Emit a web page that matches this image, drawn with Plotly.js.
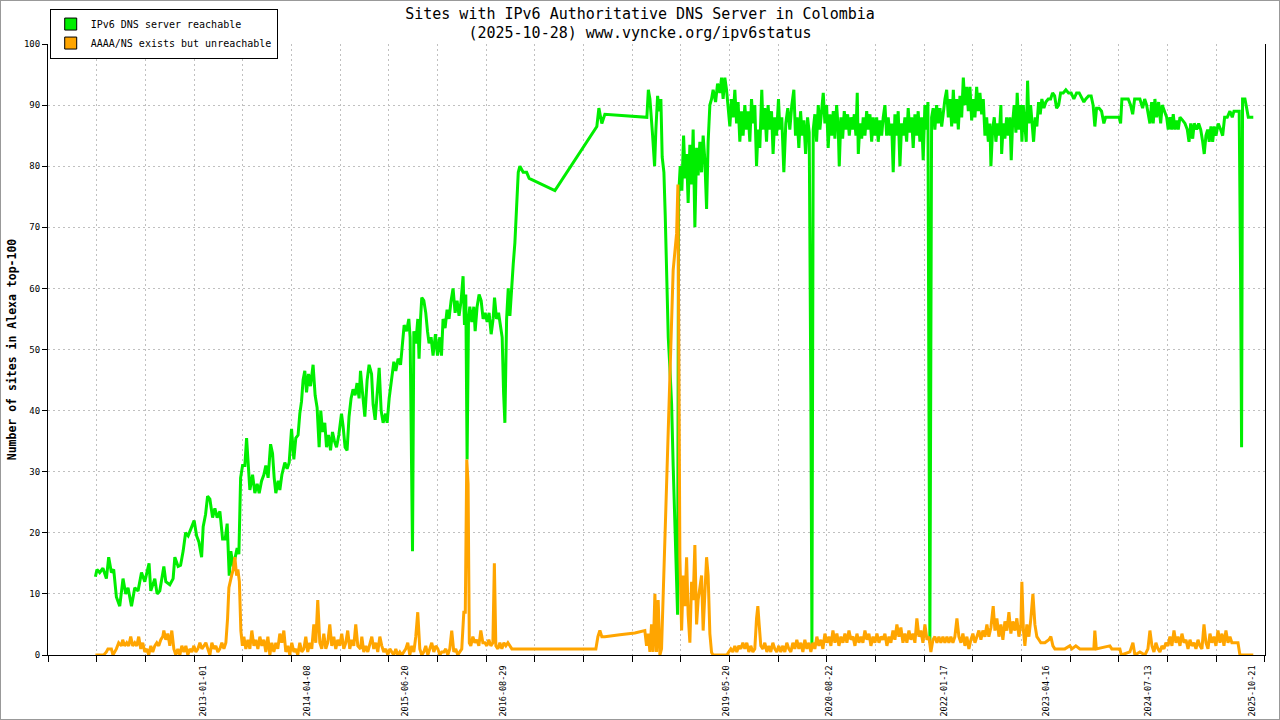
<!DOCTYPE html>
<html><head><meta charset="utf-8">
<script src="https://cdn.plot.ly/plotly-3.0.1.min.js"></script>
<style>
html,body{margin:0;padding:0;background:#fff}
#wrap{position:relative;width:1280px;height:720px}
#chart{width:1280px;height:720px}
#frame{position:absolute;left:0;top:0;width:1280px;height:720px;box-sizing:border-box;border:1px solid #999;pointer-events:none}
</style>
</head><body><div id="wrap"><div id="chart"></div><div id="frame"></div></div>
<script>
// Time of each sample as decimal year
const greenYears = [
2011.687,2011.706,2011.739,2011.779,2011.821,2011.849,2011.882,2011.910,2011.943,2011.984,
2012.024,2012.057,2012.085,2012.127,2012.167,2012.207,2012.249,2012.289,2012.341,2012.362,
2012.411,2012.439,2012.472,2012.521,2012.545,2012.594,2012.634,2012.655,2012.695,2012.725,
2012.756,2012.786,2012.817,2012.847,2012.890,2012.920,2012.948,2012.981,2013.000,2013.029,
2013.054,2013.082,2013.115,2013.143,2013.171,2013.204,2013.237,2013.269,2013.293,2013.318,
2013.338,2013.367,2013.387,2013.415,2013.436,2013.457,2013.481,2013.509,2013.530,2013.549,
2013.570,2013.603,2013.631,2013.659,2013.684,2013.713,2013.741,2013.765,2013.793,2013.823,
2013.847,2013.867,2013.887,2013.916,2013.936,2013.961,2013.997,2014.025,2014.050,2014.079,
2014.107,2014.131,2014.159,2014.180,2014.201,2014.220,2014.241,2014.262,2014.286,2014.311,
2014.342,2014.367,2014.391,2014.416,2014.436,2014.457,2014.485,2014.506,2014.530,2014.555,
2014.579,2014.603,2014.628,2014.656,2014.689,2014.708,2014.733,2014.757,2014.781,2014.806,
2014.830,2014.855,2014.879,2014.904,2014.921,2014.945,2014.974,2015.002,2015.026,2015.056,
2015.075,2015.100,2015.124,2015.149,2015.173,2015.197,2015.227,2015.246,2015.271,2015.300,
2015.328,2015.352,2015.380,2015.410,2015.434,2015.454,2015.483,2015.511,2015.527,2015.539,
2015.556,2015.572,2015.596,2015.621,2015.636,2015.654,2015.669,2015.694,2015.718,2015.739,
2015.758,2015.783,2015.807,2015.836,2015.861,2015.889,2015.910,2015.929,2015.954,2015.978,
2016.002,2016.027,2016.051,2016.076,2016.100,2016.124,2016.149,2016.173,2016.190,2016.206,
2016.222,2016.239,2016.255,2016.279,2016.304,2016.320,2016.344,2016.368,2016.393,2016.417,
2016.442,2016.466,2016.490,2016.515,2016.539,2016.556,2016.580,2016.605,2016.630,2016.649,
2016.666,2016.682,2016.703,2016.723,2016.743,2016.764,2016.784,2016.804,2016.825,2016.845,
2016.865,2016.905,2016.947,2016.978,2017.292,2017.804,2017.829,2017.865,2017.902,2018.415,
2018.433,2018.452,2018.485,2018.509,2018.525,2018.546,2018.565,2018.586,2018.602,2018.623,
2018.639,2018.656,2018.676,2018.696,2018.717,2018.736,2018.757,2018.778,2018.790,2018.802,
2018.822,2018.842,2018.863,2018.883,2018.900,2018.919,2018.940,2018.961,2018.980,2019.001,
2019.022,2019.041,2019.062,2019.083,2019.102,2019.123,2019.144,2019.163,2019.184,2019.205,
2019.224,2019.254,2019.278,2019.306,2019.327,2019.346,2019.367,2019.388,2019.407,2019.428,
2019.449,2019.468,2019.489,2019.510,2019.529,2019.550,2019.571,2019.590,2019.611,2019.632,
2019.651,2019.672,2019.693,2019.712,2019.733,2019.754,2019.773,2019.794,2019.818,2019.834,
2019.855,2019.876,2019.895,2019.916,2019.937,2019.956,2019.977,2019.998,2020.022,2020.038,
2020.062,2020.087,2020.111,2020.135,2020.160,2020.184,2020.209,2020.229,2020.249,2020.270,
2020.291,2020.310,2020.331,2020.352,2020.376,2020.396,2020.416,2020.429,2020.445,2020.465,
2020.486,2020.506,2020.526,2020.547,2020.567,2020.587,2020.608,2020.627,2020.648,2020.669,
2020.689,2020.709,2020.730,2020.750,2020.762,2020.782,2020.803,2020.823,2020.843,2020.864,
2020.884,2020.904,2020.925,2020.945,2020.965,2020.981,2020.994,2021.014,2021.035,2021.054,
2021.075,2021.096,2021.115,2021.136,2021.157,2021.176,2021.197,2021.218,2021.237,2021.258,
2021.279,2021.298,2021.319,2021.340,2021.359,2021.380,2021.401,2021.420,2021.441,2021.462,
2021.481,2021.502,2021.523,2021.542,2021.563,2021.584,2021.603,2021.624,2021.645,2021.664,
2021.685,2021.706,2021.725,2021.746,2021.767,2021.786,2021.807,2021.828,2021.844,2021.856,
2021.868,2021.889,2021.908,2021.929,2021.950,2021.970,2021.991,2022.012,2022.031,2022.052,
2022.073,2022.093,2022.113,2022.134,2022.154,2022.174,2022.195,2022.215,2022.235,2022.256,
2022.276,2022.296,2022.317,2022.337,2022.357,2022.378,2022.398,2022.418,2022.439,2022.459,
2022.479,2022.500,2022.520,2022.540,2022.561,2022.581,2022.601,2022.613,2022.634,2022.654,
2022.674,2022.695,2022.715,2022.735,2022.744,2022.764,2022.784,2022.805,2022.825,2022.845,
2022.861,2022.878,2022.897,2022.918,2022.934,2022.955,2022.976,2022.992,2023.008,2023.028,
2023.044,2023.061,2023.077,2023.098,2023.117,2023.134,2023.154,2023.174,2023.195,2023.215,
2023.235,2023.260,2023.284,2023.313,2023.342,2023.366,2023.391,2023.415,2023.440,2023.464,
2023.496,2023.528,2023.561,2023.593,2023.626,2023.659,2023.691,2023.723,2023.748,2023.772,
2023.805,2023.837,2023.861,2023.882,2023.903,2023.934,2023.964,2023.992,2024.013,2024.065,
2024.126,2024.179,2024.196,2024.212,2024.248,2024.289,2024.318,2024.343,2024.367,2024.399,
2024.431,2024.464,2024.489,2024.513,2024.538,2024.553,2024.574,2024.593,2024.614,2024.635,
2024.659,2024.684,2024.703,2024.728,2024.757,2024.776,2024.797,2024.818,2024.837,2024.858,
2024.879,2024.898,2024.919,2024.952,2024.980,2025.008,2025.029,2025.050,2025.074,2025.093,
2025.123,2025.147,2025.172,2025.196,2025.215,2025.236,2025.257,2025.276,2025.297,2025.318,
2025.337,2025.358,2025.386,2025.415,2025.440,2025.464,2025.496,2025.529,2025.557,2025.578,
2025.610,2025.642,2025.659,2025.671,2025.683,2025.712,2025.733,2025.753,2025.782,2025.814
];
const greenValues = [
12.8,14,13.5,14.2,12.5,16,13.5,14,9.5,8,
12.5,10,11,8,11,10.5,13.5,12,15,10.5,
12.5,10,10.5,14.5,12,11.5,12.5,16,14.5,14.7,
17,20,19.5,20.5,22,19.5,18.5,16,21,23,
26,25.5,22.5,24,22.5,23.5,19,19,21.5,13,
17,14.5,16,17.5,16.5,29,31,31,35.5,32,
27,29.5,26.5,28,26.5,28.5,29.5,31,29,34.5,
33,29,26.5,28.5,27,29.5,31.5,30.5,31.5,37,
32,35.5,36,39.5,41.5,45,46.5,43,46,44,
47.5,42.5,40.5,34,40,36.5,38,34,36,33.5,
36.5,35,34,36,39.5,37.5,34,33.5,39,42,
43.5,42.5,44.5,42,46.5,43,39,45,47.5,46,
41,38.5,43,47,40,38,39.5,38,42,45,
48,46.5,48.5,47.5,51,54,53,55,52,35,
17,53,51,55,48.5,55,58.5,58,56,53,
51,52,49,52.5,49,52,49,55,53.5,56.5,
55,58,60,56,58,55.5,58,62,54,59,
32,55,57,54.5,57,53,57,59,58,55,
56,54.5,56,52.5,55,58.5,55,56,54,52,
43,38,55,60,55.5,61,64,67.5,75,79,
80,79,79,78,76,86.5,89.5,87,88.5,88,
92.5,91,85,80,86,91.5,89,91,81.5,79,
72,62,52,47,41,31,20,13.5,6.6,75,
80,76,85,78,82,74,83.5,77,86,70,
83,78.5,84,79,85,81,73,84,90,91,
92.5,90.5,93.5,92,94.5,91,94.5,92.5,90,86.5,
91,88,92.5,87,90.5,84,89,85,90,86,
89,84,91,87,90,80,86,83,92.5,86,
89.5,84,90,86,89,82,88,85,91,86,
88,79,87,89.5,86,90,92.5,85,88,83,
89,85,87.5,82,88,85.5,43,1.5,86,88.5,
84,90,86,89.5,92,87,90,83,88.5,85,
89,84.5,90,86,80,88,84.5,89,86,88.5,
85,88,86,88.5,85,92,82,87,84.5,88,
85,89,86,88.5,84,88,85,88,84,87.5,
85,88,90,85,88,85,87,79,88.5,85,
89,80,87,85,88,84,89.5,85.5,88,83,
88.5,85,89,84,88,81,90,86,90.5,43,
2,88,89.5,86,90,87,89.5,86.5,89,91,
92.5,88,91,86.5,92.5,87,91,86,91.5,88,
94.5,90,93,89,93,87.5,91,88,93,89,
92,88.5,91,85,88,84,87,80,86,88,
84,87,85,90,82,87,84.5,88,85,88,
81,87,90,85.5,92,86,90,84,90,87,
84,94,87,90,86,84,88,86.5,90.5,88.5,
91,89.5,90.5,91,91,92,91.5,89.5,90,92,
92,92.5,92,92,91,92,92,91,90.5,91,
91.5,91.5,90,86.5,89.5,89.5,89,87,88,88,
88,88,87,91,91,91,90,88.5,91,91,
91,89.5,91,90,88,87,90.5,87,91,88,
90.5,87,90,89,88,86,88,86,88.5,86,
87.5,86,88,87.5,87,86,84,87,84.5,87,
86,87,86,84,82,85,86,84,86.5,84,
86.5,85,87,86,85,88,88,89,88,89,
89,89,62,34,91,91,89.5,88,88,88
];
const orangeYears = [
2011.687,2011.739,2011.788,2011.821,2011.840,2011.882,2011.901,2011.943,2011.971,2012.004,
2012.020,2012.044,2012.069,2012.093,2012.118,2012.142,2012.167,2012.191,2012.215,2012.240,
2012.264,2012.289,2012.313,2012.337,2012.362,2012.386,2012.411,2012.435,2012.459,2012.484,
2012.508,2012.521,2012.545,2012.569,2012.594,2012.618,2012.643,2012.667,2012.691,2012.716,
2012.740,2012.765,2012.789,2012.813,2012.838,2012.862,2012.887,2012.911,2012.935,2012.960,
2012.984,2013.009,2013.033,2013.057,2013.082,2013.106,2013.131,2013.155,2013.179,2013.204,
2013.228,2013.253,2013.277,2013.298,2013.314,2013.347,2013.367,2013.387,2013.408,2013.424,
2013.442,2013.460,2013.479,2013.497,2013.521,2013.546,2013.570,2013.594,2013.619,2013.643,
2013.668,2013.692,2013.716,2013.741,2013.765,2013.790,2013.814,2013.838,2013.863,2013.887,
2013.911,2013.936,2013.960,2013.985,2014.009,2014.033,2014.058,2014.082,2014.107,2014.131,
2014.155,2014.180,2014.204,2014.229,2014.253,2014.277,2014.302,2014.326,2014.351,2014.375,
2014.399,2014.424,2014.448,2014.473,2014.497,2014.521,2014.546,2014.570,2014.595,2014.619,
2014.643,2014.668,2014.692,2014.717,2014.741,2014.765,2014.790,2014.814,2014.839,2014.863,
2014.888,2014.921,2014.937,2014.961,2014.986,2015.010,2015.035,2015.059,2015.083,2015.108,
2015.132,2015.157,2015.181,2015.205,2015.230,2015.254,2015.279,2015.303,2015.327,2015.352,
2015.376,2015.401,2015.425,2015.450,2015.474,2015.498,2015.523,2015.547,2015.572,2015.596,
2015.620,2015.645,2015.669,2015.694,2015.718,2015.743,2015.767,2015.791,2015.816,2015.840,
2015.865,2015.889,2015.913,2015.938,2015.962,2015.987,2016.011,2016.035,2016.060,2016.084,
2016.108,2016.133,2016.157,2016.182,2016.200,2016.218,2016.234,2016.249,2016.267,2016.292,
2016.316,2016.340,2016.365,2016.389,2016.414,2016.438,2016.462,2016.487,2016.511,2016.536,
2016.554,2016.572,2016.597,2016.621,2016.645,2016.670,2016.694,2016.719,2016.743,2016.767,
2016.840,2016.978,2017.292,2017.792,2017.817,2017.841,2017.865,2017.902,2018.085,2018.268,
2018.390,2018.411,2018.431,2018.452,2018.472,2018.492,2018.513,2018.533,2018.553,2018.574,
2018.594,2018.614,2018.635,2018.656,2018.676,2018.696,2018.717,2018.736,2018.757,2018.778,
2018.794,2018.806,2018.818,2018.839,2018.859,2018.879,2018.900,2018.919,2018.940,2018.961,
2018.980,2019.001,2019.022,2019.041,2019.062,2019.083,2019.102,2019.123,2019.144,2019.163,
2019.184,2019.205,2019.224,2019.306,2019.391,2019.416,2019.440,2019.465,2019.489,2019.513,
2019.538,2019.562,2019.587,2019.611,2019.635,2019.660,2019.684,2019.709,2019.733,2019.754,
2019.770,2019.786,2019.806,2019.831,2019.855,2019.880,2019.904,2019.928,2019.953,2019.977,
2020.001,2020.026,2020.050,2020.075,2020.099,2020.123,2020.148,2020.172,2020.197,2020.221,
2020.245,2020.270,2020.294,2020.319,2020.343,2020.367,2020.392,2020.416,2020.441,2020.465,
2020.489,2020.514,2020.538,2020.563,2020.587,2020.611,2020.636,2020.660,2020.685,2020.709,
2020.733,2020.758,2020.782,2020.807,2020.831,2020.855,2020.880,2020.904,2020.929,2020.953,
2020.977,2021.002,2021.026,2021.050,2021.075,2021.099,2021.124,2021.148,2021.173,2021.197,
2021.221,2021.246,2021.270,2021.295,2021.319,2021.343,2021.368,2021.392,2021.417,2021.441,
2021.465,2021.490,2021.514,2021.539,2021.563,2021.587,2021.612,2021.636,2021.661,2021.685,
2021.709,2021.734,2021.758,2021.783,2021.807,2021.832,2021.856,2021.880,2021.905,2021.929,
2021.954,2021.978,2022.002,2022.027,2022.051,2022.076,2022.100,2022.124,2022.149,2022.173,
2022.198,2022.222,2022.247,2022.271,2022.296,2022.320,2022.344,2022.369,2022.393,2022.418,
2022.442,2022.466,2022.491,2022.515,2022.540,2022.564,2022.588,2022.613,2022.641,2022.662,
2022.686,2022.711,2022.735,2022.759,2022.784,2022.808,2022.833,2022.857,2022.881,2022.906,
2022.930,2022.955,2022.979,2022.991,2023.010,2023.028,2023.052,2023.077,2023.101,2023.126,
2023.150,2023.174,2023.199,2023.223,2023.272,2023.321,2023.345,2023.370,2023.394,2023.516,
2023.577,2023.602,2023.650,2023.699,2023.870,2023.882,2023.900,2024.065,2024.089,2024.187,
2024.205,2024.309,2024.346,2024.370,2024.431,2024.492,2024.529,2024.553,2024.578,2024.602,
2024.626,2024.651,2024.675,2024.699,2024.724,2024.748,2024.773,2024.797,2024.821,2024.846,
2024.870,2024.895,2024.919,2024.943,2024.968,2024.992,2025.017,2025.041,2025.065,2025.090,
2025.114,2025.139,2025.163,2025.187,2025.212,2025.236,2025.261,2025.285,2025.309,2025.334,
2025.358,2025.383,2025.407,2025.432,2025.456,2025.480,2025.505,2025.529,2025.553,2025.627,
2025.651,2025.814
];
const orangeValues = [
0,0,0,0.5,1,1,0,1,2,1.5,
2.5,1.5,2,1.5,3,1.5,2,1.5,3,1,
2,0.5,1,0,1.5,0.5,1.5,2,1.5,2.5,
3,4,2.5,3.5,1.5,4,1,0,1,0,
1.5,0.5,1.5,0,1,0.5,1.5,0.5,1,2,
1,1.5,2,1,0,2,1,1.5,0.5,1,
2,1,2,6,11,13,14,16,13,14,
12,4,1.5,3,1,2.5,1,4,1.5,2.5,
1,3,1.5,2.5,0.5,3,0,2,0.5,2,
1,3.5,2,4,0.5,1.5,0,2,0.5,1,
0,2,0.5,1,3,0.5,2,1,5,2,
9,2,1,3.5,1,2,5,1.5,3,1,
2.5,1.5,3.5,1,2,4,1,2.5,1.5,5,
1.5,1,3,0.5,1.5,0.5,2,3,1,2,
0.5,3,1.5,0.5,1,0,1,0.5,0,1,
0,0.5,0,0.5,1,2,0,1.5,0.5,3,
7,1,0,0.5,1.5,0,1,2,0.5,1.5,
1,0,0.5,0.5,1,0,1,4,0.5,1,
0,0.5,1,7,7,32,28,2,1.5,3,
2,2.5,1.5,4,2,2,1.5,2.5,1.5,2,
15,1.5,1,2,1,2,1.5,2,1.5,1,
1,1,1,1,3,4,3,3,3.3,3.6,
4,1.5,3.5,0.5,5,0.5,10,0.5,9,0,
1,10,16,25,38,47,53.5,63,66,69,
77,40,16,4,13,8,16,6.6,2,12,
9,18,5,9,11,13,4,10,16,13,
3.5,0.4,0,0,0,0.5,1,0.5,1.5,0.5,
1.5,1,2,1,2,0.5,1.5,0.5,1,6,
8,5,1.5,1,2,0.5,1.5,0.5,2,1,
0.5,1.5,0.5,1.5,0.5,2,1,0.5,2,1,
2.5,1,2,0.5,2.5,1,2,0.5,2,1,
3,1.5,2.5,1,3.5,2,3,1.5,4,2,
3.5,1.5,3,2,3.5,2,4,2.5,3,1.5,
3.5,2,3,2,4,2.5,3.5,1.5,3,2,
3.5,2,3,2.5,3.5,1.5,3,2,4,2.5,
5,3,4.5,2,3.5,2,4,2.5,3.5,2,
6,3,4,2,5,2.5,3,0.5,2.5,3,
2,3,2,3,2,3,2,3,2,3,
6,3,2,3.5,1.5,3,1,2.5,3.5,2,
3,4,2.5,4,3,5,3,4.5,8,4,
6,3,5,2.5,5.5,4,7,3.5,5.5,4,
6,3,5,12,4,1.5,5,3,6,10,
5,3,2.5,2,2,2.5,3,1.5,1,1,
1.5,1,1.5,1,1,4,1,1.5,1,1,
0,0.5,2,0,0.5,0,1,4,1.5,0.5,
2,1,0.5,1.5,1,2,1.5,3,1.5,4,
2,3,1.5,3.5,2,2.5,1,2.5,1.5,2,
1,2.5,1.5,1,5,2,1,3.5,2,3,
1.5,4,2,3.5,1.5,4,2,3,2,2,
0,0
];
const tickLabels = ['2013-01-01','2014-04-08','2015-06-20','2016-08-29','2019-05-20','2020-08-22','2022-01-17','2023-04-16','2024-07-13','2025-10-21'];
const seriesNames = ['IPv6 DNS server reachable','AAAA/NS exists but unreachable'];
const seriesColors = ['#00ee00','#ffa500'];
const yTicks = [0,10,20,30,40,50,60,70,80,90,100];

function yearToDate(y){
  const yr = Math.floor(y);
  const s = Date.UTC(yr,0,1), e = Date.UTC(yr+1,0,1);
  return new Date(s + (y-yr)*(e-s)).toISOString().slice(0,19).replace('T',' ');
}
const xStart = 2011.108, xEnd = 2025.957;
const minorStepMs = (xEnd - xStart) * 365.25 * 86400000 / 25;
const mono = 'DejaVu Sans Mono, Liberation Mono, monospace';

const traces = [
  {type:'scatter', mode:'lines', x: greenYears.map(yearToDate), y: greenValues, name: seriesNames[0], showlegend:false,
   line:{color:seriesColors[0], width:3}},
  {type:'scatter', mode:'lines', x: orangeYears.map(yearToDate), y: orangeValues, name: seriesNames[1], showlegend:false,
   line:{color:seriesColors[1], width:3}},
  {type:'bar', x:[null], y:[null], name: seriesNames[0], marker:{color:seriesColors[0], line:{color:'#000', width:1}}},
  {type:'bar', x:[null], y:[null], name: seriesNames[1], marker:{color:seriesColors[1], line:{color:'#000', width:1}}}
];

const layout = {
  width:1280, height:720,
  margin:{l:48, r:15, t:44, b:65, autoexpand:false},
  paper_bgcolor:'#fff', plot_bgcolor:'#fff',
  font:{family:mono, color:'#000'},
  title:{text:'Sites with IPv6 Authoritative DNS Server in Colombia<br>(2025-10-28) www.vyncke.org/ipv6status',
         font:{family:mono, size:15, color:'#000'}, xref:'container', x:0.5, xanchor:'center',
         yref:'container', y:0.974, yanchor:'top'},
  showlegend:true,
  legend:{x:0.0014, y:1.058, xanchor:'left', yanchor:'top', bgcolor:'#fff', bordercolor:'#000', borderwidth:1,
          font:{family:mono, size:10, color:'#000'}, tracegroupgap:0, traceorder:'normal'},
  xaxis:{type:'date', range:[yearToDate(xStart), yearToDate(xEnd)], autorange:false,
         tickmode:'array', tickvals:tickLabels, ticktext:tickLabels, tickangle:-90,
         tickfont:{family:mono, size:8.5, color:'#000'}, ticks:'', ticklabelstandoff:6,
         showgrid:false, zeroline:false, showline:true, linecolor:'#000', linewidth:1,
         minor:{tick0:yearToDate(xStart), dtick:minorStepMs, ticks:'outside', ticklen:6, tickcolor:'#000', tickwidth:1,
                showgrid:true, gridcolor:'#c0c0c0', griddash:'2px,3px', gridwidth:1}},
  yaxis:{range:[0,100], autorange:false, tickmode:'array', tickvals:yTicks, ticktext:yTicks.map(String),
         tickfont:{family:mono, size:9, color:'#000'}, ticks:'outside', ticklen:5, tickcolor:'#000',
         showgrid:true, gridcolor:'#c0c0c0', griddash:'2px,3px', gridwidth:1,
         zeroline:false, showline:true, linecolor:'#000', linewidth:1, mirror:true,
         title:{text:'Number of sites in Alexa top-100', font:{family:mono, size:11.5, color:'#000', weight:'bold'}, standoff:4}},
  hovermode:false
};
Plotly.newPlot('chart', traces, layout, {displayModeBar:false, staticPlot:true});
</script>
</body></html>
